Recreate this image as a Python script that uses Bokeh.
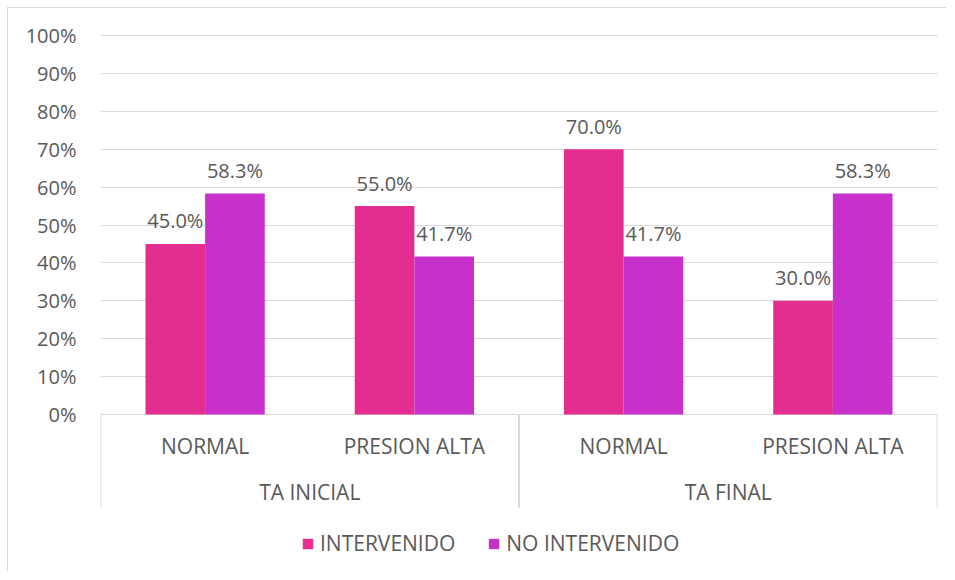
from bokeh.plotting import figure
from bokeh.models import (FactorRange, ColumnDataSource, FixedTicker, NumeralTickFormatter,
                          Legend, LegendItem)
from bokeh.transform import dodge
from bokeh.core.properties import value
from bokeh.embed import file_html
from bokeh.resources import INLINE

# ---- data ----
groups = ["TA INICIAL", "TA FINAL"]
categories = ["NORMAL", "PRESION ALTA"]
intervenido = [0.450, 0.550, 0.700, 0.300]
no_intervenido = [0.583, 0.417, 0.417, 0.583]
series_names = ["INTERVENIDO", "NO INTERVENIDO"]
y_ticks = [0.0, 0.1, 0.2, 0.3, 0.4, 0.5, 0.6, 0.7, 0.8, 0.9, 1.0]

# ---- style ----
FONT = "Open Sans"
TXT = "#595959"
GRID = "#D9D9D9"
C1 = "#E32D91"
C2 = "#C830CC"
FS_NUM = "20px"
FS_TXT = "21px"

W, H = 939, 564
ML, MR, MT, MB = 92, 10, 12, 0
frame_h = H - MT - MB
px_unit = 379.0               # pixels per 100%
y_end = 1 + 15 / px_unit
y_start = y_end - frame_h / px_unit
sep_depth = 93 / px_unit

factors = [(g, c) for g in groups for c in categories]
src = ColumnDataSource(dict(
    x=factors,
    a=intervenido,
    b=no_intervenido,
    la=[f"{v*100:.1f}%" for v in intervenido],
    lb=[f"{v*100:.1f}%" for v in no_intervenido],
))

p = figure(width=W, height=H, output_backend="svg", toolbar_location=None,
           x_range=FactorRange(factors=factors, group_padding=0, factor_padding=0,
                               range_padding=0),
           y_range=(y_start, y_end), x_axis_location=None,
           min_border_left=ML, min_border_right=MR, min_border_top=MT,
           min_border_bottom=MB)
p.outline_line_color = None
p.xgrid.grid_line_color = None
p.ygrid.ticker = FixedTicker(ticks=y_ticks)
p.ygrid.grid_line_color = GRID
p.ygrid.grid_line_width = 1

ax = p.yaxis[0]
ax.ticker = FixedTicker(ticks=y_ticks)
ax.formatter = NumeralTickFormatter(format="0%")
ax.axis_line_color = None
ax.major_tick_line_color = None
ax.minor_tick_line_color = None
ax.major_label_standoff = 18
ax.major_label_text_font = FONT
ax.major_label_text_font_size = FS_NUM
ax.major_label_text_color = TXT

bw = 0.285
off = bw / 2
r1 = p.vbar(x=dodge("x", -off, range=p.x_range), top="a", width=bw, bottom=0,
            source=src, fill_color=C1, line_color=None)
r2 = p.vbar(x=dodge("x", off, range=p.x_range), top="b", width=bw, bottom=0,
            source=src, fill_color=C2, line_color=None)

for col, lab, sign in (("a", "la", -1), ("b", "lb", 1)):
    p.text(x=dodge("x", sign * off, range=p.x_range), y=col, text=lab, source=src,
           text_align="center", text_baseline="middle", y_offset=-23,
           text_font=value(FONT), text_font_size=FS_NUM, text_color=TXT)

# category axis labels
p.text(x=factors, y=[0] * len(factors), text=[c for g in groups for c in categories],
       text_align="center", text_baseline="middle", y_offset=31,
       text_font=value(FONT), text_font_size=FS_TXT, text_color=TXT)
p.text(x=groups, y=[0] * len(groups), text=groups,
       text_align="center", text_baseline="middle", y_offset=77,
       text_font=value(FONT), text_font_size=FS_TXT, text_color=TXT)

# separators of the group axis
bounds = [i * len(categories) for i in range(len(groups) + 1)]
p.segment(x0=bounds, x1=bounds, y0=[0] * len(bounds), y1=[-sep_depth] * len(bounds),
          line_color=GRID, line_width=2)

legend = Legend(items=[LegendItem(label=series_names[0], renderers=[r1]),
                       LegendItem(label=series_names[1], renderers=[r2])],
                orientation="horizontal", location=(201, 15),
                glyph_width=13, glyph_height=13, label_standoff=6, spacing=32,
                padding=0, margin=0, border_line_color=None,
                background_fill_alpha=0,
                label_text_font=FONT, label_text_font_size=FS_TXT, label_text_color=TXT)
p.add_layout(legend)

p.styles = {"margin-left": "7px", "margin-top": "7px",
            "border-top": "1px solid #D9D9D9", "border-left": "1px solid #D9D9D9"}

open("out.html", "w").write(file_html(p, INLINE))
